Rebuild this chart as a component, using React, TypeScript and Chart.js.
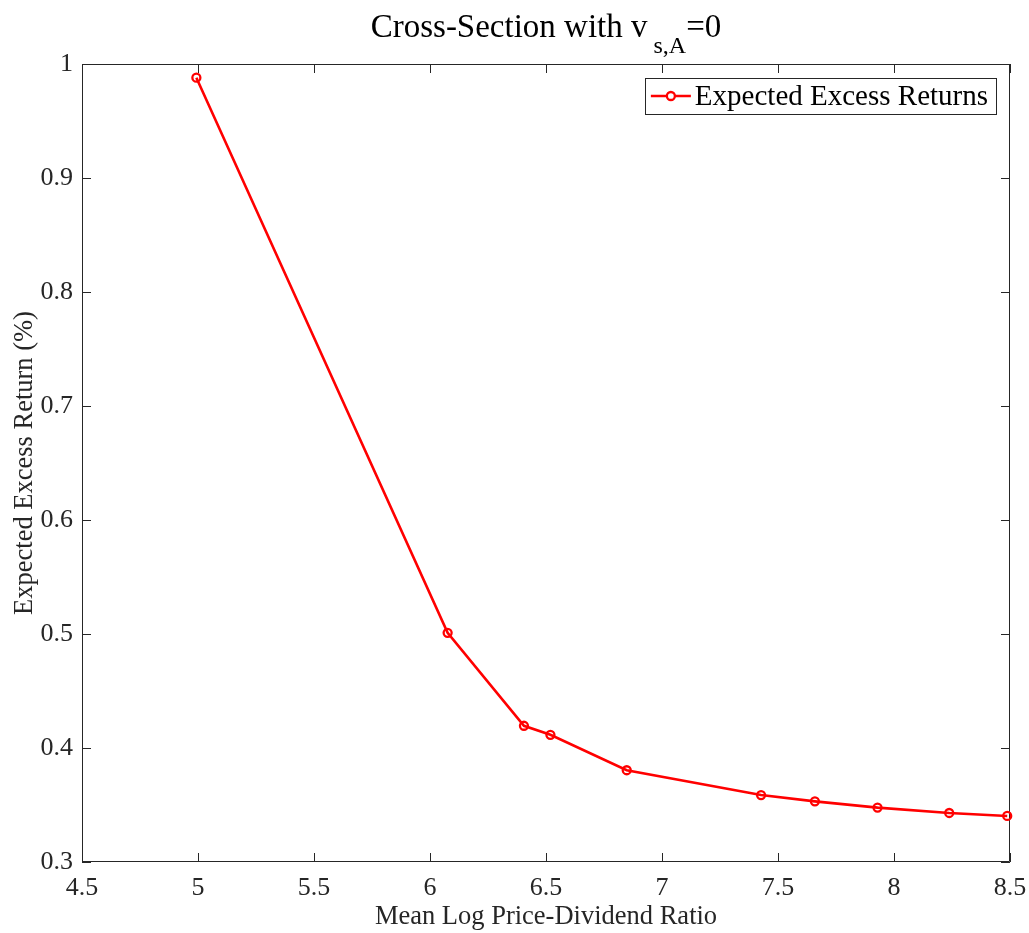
import React, { useEffect, useRef } from "react";
import { Chart, registerables } from "chart.js";

Chart.register(...registerables);

const seriesLabel = "Expected Excess Returns";
const logPriceDividend = [4.993, 6.076, 6.405, 6.519, 6.848, 7.427, 7.659, 7.929, 8.238, 8.488];
const expectedExcessReturn = [0.988, 0.501, 0.4195, 0.4116, 0.3805, 0.3587, 0.3532, 0.3477, 0.343, 0.3404];
const xTickValues = [4.5, 5, 5.5, 6, 6.5, 7, 7.5, 8, 8.5];
const yTickValues = [0.3, 0.4, 0.5, 0.6, 0.7, 0.8, 0.9, 1];
const titleMain = "Cross-Section with v";
const titleSub = "s,A";
const titleTail = "=0";
const xAxisTitle = "Mean Log Price-Dividend Ratio";
const yAxisTitle = "Expected Excess Return (%)";

const FONT = "'Liberation Serif', 'Times New Roman', serif";
const AXIS_COLOR = "#262626";
const RED = "#ff0000";
const TICK_LEN = 9;

const fmt = (v: number) => String(Number(v.toFixed(2)));

const framePlugin = {
  id: "matlabFrame",
  beforeDatasetsDraw(chart: any) {
    const { ctx, chartArea } = chart;
    const { left, right, top, bottom } = chartArea;
    const xs = chart.scales.x;
    const ys = chart.scales.y;
    ctx.save();
    ctx.strokeStyle = AXIS_COLOR;
    ctx.lineWidth = 1;
    ctx.beginPath();
    ctx.rect(left + 0.5, top + 0.5, right - left - 1, bottom - top - 1);
    ctx.stroke();
    ctx.beginPath();
    xTickValues.forEach((v) => {
      const px = Math.round(xs.getPixelForValue(v)) + 0.5;
      ctx.moveTo(px, bottom);
      ctx.lineTo(px, bottom - TICK_LEN);
      ctx.moveTo(px, top);
      ctx.lineTo(px, top + TICK_LEN);
    });
    yTickValues.forEach((v) => {
      const py = Math.round(ys.getPixelForValue(v)) + 0.5;
      ctx.moveTo(left, py);
      ctx.lineTo(left + TICK_LEN, py);
      ctx.moveTo(right, py);
      ctx.lineTo(right - TICK_LEN, py);
    });
    ctx.stroke();
    ctx.restore();
  },
  afterDraw(chart: any) {
    const { ctx, chartArea } = chart;
    ctx.save();
    // Title with subscript
    const mainFont = `33px ${FONT}`;
    const subFont = `24px ${FONT}`;
    ctx.font = mainFont;
    const wMain = ctx.measureText(titleMain).width;
    const wTail = ctx.measureText(titleTail).width;
    ctx.font = subFont;
    const wSub = ctx.measureText(titleSub).width;
    const gap = 6;
    const total = wMain + gap + wSub + wTail;
    const cx = (chartArea.left + chartArea.right) / 2;
    let x = cx - total / 2;
    const baseY = 37;
    ctx.fillStyle = "#000";
    ctx.textBaseline = "alphabetic";
    ctx.textAlign = "left";
    ctx.font = mainFont;
    ctx.fillText(titleMain, x, baseY);
    x += wMain + gap;
    ctx.font = subFont;
    ctx.fillText(titleSub, x, baseY + 16);
    x += wSub;
    ctx.font = mainFont;
    ctx.fillText(titleTail, x, baseY);

    // Legend
    const ds = chart.data.datasets[0];
    const legFont = `29px ${FONT}`;
    ctx.font = legFont;
    const tw = ctx.measureText(ds.label).width;
    const boxRight = chartArea.right - 14;
    const boxLeft = boxRight - (tw + 51 + 7);
    const boxTop = chartArea.top + 14;
    const boxBottom = boxTop + 36;
    ctx.fillStyle = "#fff";
    ctx.fillRect(boxLeft, boxTop, boxRight - boxLeft, boxBottom - boxTop);
    ctx.strokeStyle = AXIS_COLOR;
    ctx.lineWidth = 1;
    ctx.strokeRect(Math.round(boxLeft) + 0.5, boxTop + 0.5, Math.round(boxRight - boxLeft), boxBottom - boxTop);
    const midY = (boxTop + boxBottom) / 2;
    ctx.strokeStyle = ds.borderColor;
    ctx.lineWidth = ds.borderWidth;
    ctx.beginPath();
    ctx.moveTo(boxLeft + 6, midY);
    ctx.lineTo(boxLeft + 46, midY);
    ctx.stroke();
    ctx.lineWidth = ds.pointBorderWidth;
    ctx.beginPath();
    ctx.arc(boxLeft + 26, midY, ds.pointRadius, 0, Math.PI * 2);
    ctx.fillStyle = "#fff";
    ctx.fill();
    ctx.stroke();
    ctx.fillStyle = "#000";
    ctx.textBaseline = "middle";
    ctx.fillText(ds.label, boxLeft + 50, midY + 1);
    ctx.restore();
  },
};

export default function App() {
  const ref = useRef<HTMLCanvasElement | null>(null);
  useEffect(() => {
    if (!ref.current) return;
    const chart = new Chart(ref.current, {
      type: "line",
      data: {
        datasets: [
          {
            label: seriesLabel,
            data: logPriceDividend.map((x, i) => ({ x, y: expectedExcessReturn[i] })),
            borderColor: RED,
            borderWidth: 2.6,
            pointRadius: 4,
            pointBorderWidth: 2.3,
            pointBorderColor: RED,
            pointBackgroundColor: "rgba(255,255,255,0)",
            tension: 0,
            clip: false as any,
          },
        ],
      },
      options: {
        responsive: false,
        animation: false,
        events: [],
        layout: { padding: { top: 64, right: 19, left: 0, bottom: 0 } },
        plugins: { legend: { display: false }, title: { display: false }, tooltip: { enabled: false } },
        scales: {
          x: {
            type: "linear",
            min: 4.5,
            max: 8.5,
            grid: { display: false, drawTicks: false },
            border: { display: false },
            afterBuildTicks: (s: any) => {
              s.ticks = xTickValues.map((v) => ({ value: v }));
            },
            afterFit: (s: any) => {
              s.height = 71;
              s.paddingLeft = 0;
              s.paddingRight = 0;
            },
            ticks: {
              padding: 11,
              color: AXIS_COLOR,
              font: { family: FONT, size: 26 },
              maxRotation: 0,
              autoSkip: false,
              callback: (v: any) => fmt(Number(v)),
            },
            title: {
              display: true,
              text: xAxisTitle,
              color: AXIS_COLOR,
              font: { family: FONT, size: 26.5 },
              padding: { top: 0, bottom: 0 },
            },
          },
          y: {
            type: "linear",
            min: 0.3,
            max: 1,
            grid: { display: false, drawTicks: false },
            border: { display: false },
            afterBuildTicks: (s: any) => {
              s.ticks = yTickValues.map((v) => ({ value: v }));
            },
            afterFit: (s: any) => {
              s.width = 82;
              s.paddingTop = 0;
              s.paddingBottom = 0;
            },
            ticks: {
              padding: 9,
              color: AXIS_COLOR,
              font: { family: FONT, size: 26 },
              autoSkip: false,
              callback: (v: any) => fmt(Number(v)),
            },
            title: {
              display: true,
              text: yAxisTitle,
              color: AXIS_COLOR,
              font: { family: FONT, size: 26.5 },
              padding: { top: 9, bottom: 0 },
            },
          },
        },
      },
      plugins: [framePlugin],
    });
    return () => chart.destroy();
  }, []);
  return (
    <div style={{ position: "fixed", left: 0, top: 0, width: 1029, height: 933, background: "#fff" }}>
      <canvas ref={ref} width={1029} height={933} style={{ display: "block" }} />
    </div>
  );
}
